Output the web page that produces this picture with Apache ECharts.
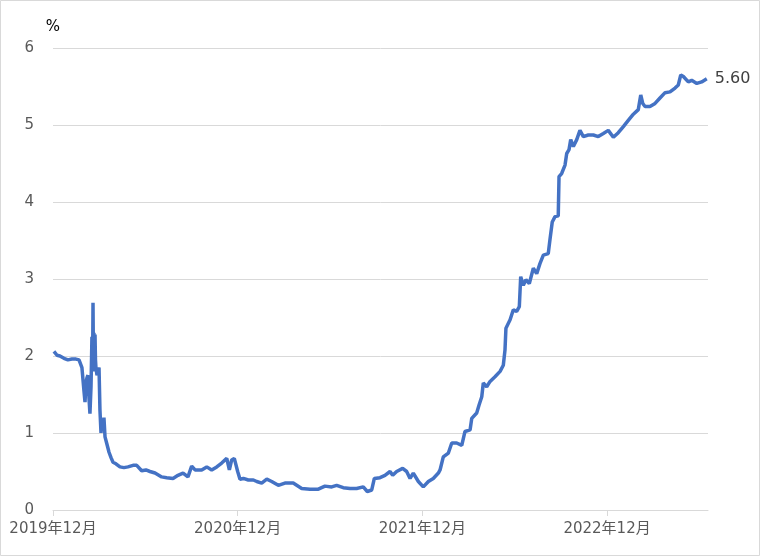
<!DOCTYPE html>
<html>
<head>
<meta charset="utf-8">
<script src="https://cdn.jsdelivr.net/npm/echarts@6/dist/echarts.min.js"></script>
<style>
html,body{margin:0;padding:0;background:#fff;}
#chart{width:760px;height:556px;}
</style>
</head>
<body>
<div id="chart"></div>
<script>
// x position: months elapsed since 2019年12月
const months = [0.06,0.26,0.45,0.71,0.97,1.23,1.49,1.69,1.88,2.01,2.08,2.14,2.21,2.27,2.34,2.40,2.47,2.53,2.57,2.60,2.63,2.66,2.70,2.73,2.76,2.79,2.86,2.92,2.99,3.05,3.12,3.18,3.25,3.31,3.38,3.51,3.64,3.77,3.90,4.09,4.35,4.61,4.87,5.20,5.44,5.76,6.04,6.30,6.63,7.06,7.39,7.80,8.12,8.45,8.77,9.01,9.23,9.66,9.99,10.31,10.64,10.96,11.29,11.46,11.61,11.78,12.00,12.15,12.37,12.69,13.02,13.24,13.56,13.89,14.21,14.64,15.07,15.61,16.16,16.70,17.24,17.67,18.11,18.43,18.86,19.30,19.73,20.16,20.42,20.71,20.88,21.25,21.57,21.90,22.07,22.33,22.72,22.98,23.20,23.41,23.74,24.06,24.39,24.71,25.04,25.15,25.36,25.69,25.91,26.23,26.56,26.77,27.10,27.21,27.53,27.68,27.86,27.96,28.18,28.40,28.72,29.05,29.26,29.37,29.43,29.70,29.91,30.13,30.30,30.39,30.56,30.73,30.95,31.21,31.43,31.64,31.86,32.18,32.29,32.44,32.62,32.83,32.88,33.05,33.27,33.38,33.53,33.64,33.81,34.03,34.24,34.46,34.78,35.11,35.43,35.76,36.08,36.41,36.73,37.06,37.38,37.71,38.03,38.19,38.32,38.47,38.79,39.12,39.44,39.77,40.09,40.42,40.63,40.79,40.96,41.28,41.50,41.83,42.15,42.48];
const rates = [2.06,2.01,2.00,1.97,1.95,1.96,1.96,1.95,1.85,1.55,1.40,1.65,1.72,1.75,1.45,1.25,1.60,2.25,1.80,2.69,1.85,2.30,1.80,2.28,1.95,1.85,1.75,1.80,1.85,1.30,1.00,1.18,1.05,1.20,0.95,0.85,0.75,0.68,0.62,0.60,0.56,0.55,0.56,0.58,0.58,0.51,0.52,0.50,0.48,0.43,0.42,0.41,0.45,0.48,0.43,0.57,0.52,0.52,0.56,0.52,0.56,0.61,0.67,0.52,0.65,0.67,0.50,0.40,0.41,0.39,0.39,0.37,0.35,0.40,0.37,0.32,0.35,0.35,0.28,0.27,0.27,0.31,0.30,0.32,0.29,0.28,0.28,0.30,0.24,0.26,0.41,0.42,0.45,0.50,0.45,0.50,0.54,0.50,0.41,0.48,0.37,0.30,0.37,0.41,0.48,0.52,0.69,0.74,0.87,0.87,0.84,1.02,1.04,1.19,1.26,1.36,1.47,1.65,1.60,1.67,1.73,1.80,1.88,2.08,2.36,2.47,2.60,2.58,2.64,3.03,2.92,2.99,2.94,3.14,3.07,3.20,3.31,3.33,3.51,3.74,3.81,3.82,4.33,4.37,4.48,4.63,4.68,4.81,4.72,4.81,4.93,4.85,4.87,4.87,4.85,4.89,4.93,4.84,4.90,4.98,5.06,5.14,5.20,5.39,5.28,5.24,5.24,5.28,5.35,5.42,5.43,5.48,5.52,5.65,5.63,5.56,5.58,5.54,5.56,5.60];
const tickMonths = [0, 12, 24, 36];
const tickLabels = ['2019年12月', '2020年12月', '2021年12月', '2022年12月'];

const FONT = "'DejaVu Sans','Noto Sans CJK JP',sans-serif";
const chart = echarts.init(document.getElementById('chart'), null, {renderer: 'canvas'});
const data = months.map((m, i) => [m, rates[i]]);

chart.setOption({
  animation: false,
  backgroundColor: '#fff',
  graphic: [{
    type: 'rect',
    shape: {x: 0.5, y: 0.5, width: 759, height: 555},
    style: {fill: 'none', stroke: '#d9d9d9', lineWidth: 1}
  }],
  grid: {left: 53, right: 52, top: 48, bottom: 46, containLabel: false},
  xAxis: {
    type: 'value',
    min: 0,
    max: 42.56,
    interval: 12,
    axisLine: {show: true, lineStyle: {color: '#d9d9d9', width: 1}},
    axisTick: {show: true, customValues: tickMonths, length: 6, lineStyle: {color: '#d9d9d9'}},
    splitLine: {show: false},
    axisLabel: {
      customValues: tickMonths,
      formatter: v => { const i = tickMonths.indexOf(Math.round(v)); return i >= 0 ? tickLabels[i] : ''; },
      color: '#595959', fontSize: 15, fontFamily: FONT, margin: 12
    }
  },
  yAxis: {
    type: 'value',
    min: 0, max: 6, interval: 1,
    name: '%',
    nameLocation: 'end',
    nameGap: 13,
    nameTextStyle: {color: '#000', fontSize: 15, fontFamily: FONT, align: 'center'},
    axisLine: {show: false},
    axisTick: {show: false},
    splitLine: {show: true, lineStyle: {color: '#d9d9d9', width: 1}},
    axisLabel: {color: '#595959', fontSize: 15, fontFamily: FONT, margin: 19}
  },
  series: [{
    type: 'line',
    data: data,
    showSymbol: false,
    symbol: 'none',
    lineStyle: {color: '#4472C4', width: 3.5},
    itemStyle: {color: '#4472C4'},
    endLabel: {
      show: true,
      formatter: p => p.value[1].toFixed(2),
      color: '#404040', fontSize: 16, fontFamily: FONT, distance: 8
    }
  }]
});
</script>
</body>
</html>
